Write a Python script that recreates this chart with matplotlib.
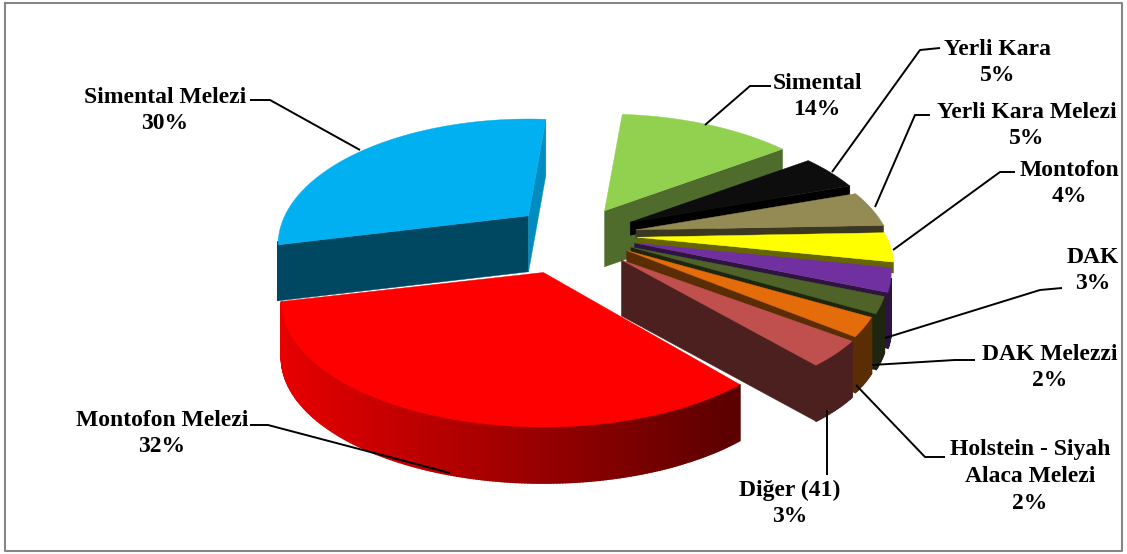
import numpy as np
import matplotlib
matplotlib.use('Agg')
import matplotlib.pyplot as plt
from matplotlib.colors import to_rgb

plt.rcParams['font.family'] = ['Liberation Serif', 'DejaVu Serif']

# data, clockwise from the top of the pie
names = ['Simental', 'Yerli Kara', 'Yerli Kara Melezi', 'Montofon', 'DAK', 'DAK Melezzi',
         'Holstein - Siyah\nAlaca Melezi', 'Diğer (41)', 'Montofon Melezi', 'Simental Melezi']
percent_labels = ['14%', '5%', '5%', '4%', '3%', '2%', '2%', '3%', '32%', '30%']
values = [13.6, 4.7, 4.7, 3.8, 3.0, 2.1, 2.4, 3.4, 32.2, 30.1]

top_colors = ['#92d050', '#0d0d0d', '#948a54', '#ffff00', '#7030a0',
              '#4f6228', '#e46c0a', '#c0504d', '#ff0000', '#00b0f0']
side_colors = ['#4f6c2d', '#000000', '#3c3721', '#666600', '#2d1441',
               '#1e260f', '#5a2d05', '#4d2020', '#640000', '#004761']
explode = [58, 60, 60, 60, 60, 60, 60, 68, 86, 64]
shift_x = [-1, 0, 0, 0, 0, 0, 0, -4, -6, 0]
shift_y = [-1, 0, 0, 0, 0, 0, 0, 3, 0, 0]
scale_x = [1, 1, 1, 1, 1, 1, 1, 1.01, 1.02, 0.975]
scale_y = [1, 1, 1, 1, 1, 1, 1, 0.94, 1, 1]
face_depth = [56, 13, 9, 11, 56, 56, 56, 56, 56, 56]
draw_order = [9, 0, 1, 2, 3, 4, 5, 6, 7, 8]

start_angle = 5.0
cx, cy = 577, 235     # pie centre, pixels
rx, ry = 250, 119     # radii
persp = 0.23
depth = 56
squash = 0.46


def project(ox, oy, theta, sx=1.0, sy=1.0):
    t = np.radians(theta)
    u = np.sin(t)
    v = -np.cos(t)
    s = 1 / (1 - persp * v)
    return ox + rx * sx * u * s, oy + ry * sy * v * s


def mix(c1, c2, f):
    a, b = np.array(to_rgb(c1)), np.array(to_rgb(c2))
    return tuple(a + (b - a) * f)


fig = plt.figure(figsize=(11.27, 5.54), dpi=100)
ax = fig.add_axes([0, 0, 1, 1])
ax.set_xlim(0, 1127)
ax.set_ylim(554, 0)
ax.axis('off')

# chart frame
ax.plot([4.5, 1122, 1122, 4.5, 4.5], [2.5, 2.5, 551, 551, 2.5], color='#868686', lw=1.5)

edges = start_angle + np.cumsum([0] + values) / sum(values) * 360

for i in draw_order:
    a0, a1 = edges[i], edges[i + 1]
    mid = np.radians((a0 + a1) / 2)
    ox = cx + explode[i] * np.sin(mid) + shift_x[i]
    oy = cy - explode[i] * np.cos(mid) * squash + shift_y[i]
    th = np.linspace(a0, a1, max(int(a1 - a0) * 2, 6))
    xs, ys = project(ox, oy, th, scale_x[i], scale_y[i])

    # flat cut faces, only those turned to the viewer
    fd = face_depth[i]
    for ang, xe, ye, visible in [(a0, xs[0], ys[0], np.sin(np.radians(a0)) < 0),
                                 (a1, xs[-1], ys[-1], np.sin(np.radians(a1)) > 0)]:
        if visible:
            col = side_colors[i]
            if i == 9 and ang == a1:
                col = '#008cbe'
            ax.fill([ox, xe, xe, ox], [oy, ye, ye + fd, oy + fd], color=col, lw=0.3)

    # outer wall, front part only
    for j in range(len(th) - 1):
        tm = (th[j] + th[j + 1]) / 2 % 360
        if not 106 < tm < 258:
            continue
        col = side_colors[i]
        if i == 8:
            f = np.clip((xs[j] - 285) / 455, 0, 1)
            col = mix('#e60000', '#5a0000', f)
        ax.fill([xs[j], xs[j + 1], xs[j + 1], xs[j]],
                [ys[j], ys[j + 1], ys[j + 1] + depth, ys[j] + depth], color=col, lw=1.2)

    ax.fill(np.r_[ox, xs], np.r_[oy, ys], color=top_colors[i], lw=0.3)

# leader lines
leaders = [([771, 750, 705], [86, 86, 125]),
           ([250, 270, 360], [100, 100, 150]),
           ([940, 920, 832], [48, 50, 172]),
           ([930, 915, 875], [115, 115, 207]),
           ([1015, 1000, 893], [172, 172, 250]),
           ([1062, 1040, 885], [288, 290, 338]),
           ([975, 955, 872], [360, 360, 365]),
           ([945, 925, 856], [457, 457, 385]),
           ([827, 827], [475, 410]),
           ([250, 268, 450], [425, 425, 473])]
for lx, ly in leaders:
    ax.plot(lx, ly, color='black', lw=1.4, solid_capstyle='butt')

# labels
label_pos = [(817, 96.5), (998, 62.5), (1027, 125.5), (1069, 183.5), (1093, 270.5), (1050, 367.5),
             (1030, 476.5), (790, 503.5), (162, 433.5), (165, 110.5)]
for name, pct, (lx, ly) in zip(names, percent_labels, label_pos):
    ax.text(lx, ly, f'{name}\n{pct}', ha='center', va='center', fontsize=17,
            fontweight='bold', linespacing=1.35, color='black')

fig.savefig('out.png', dpi=100)
